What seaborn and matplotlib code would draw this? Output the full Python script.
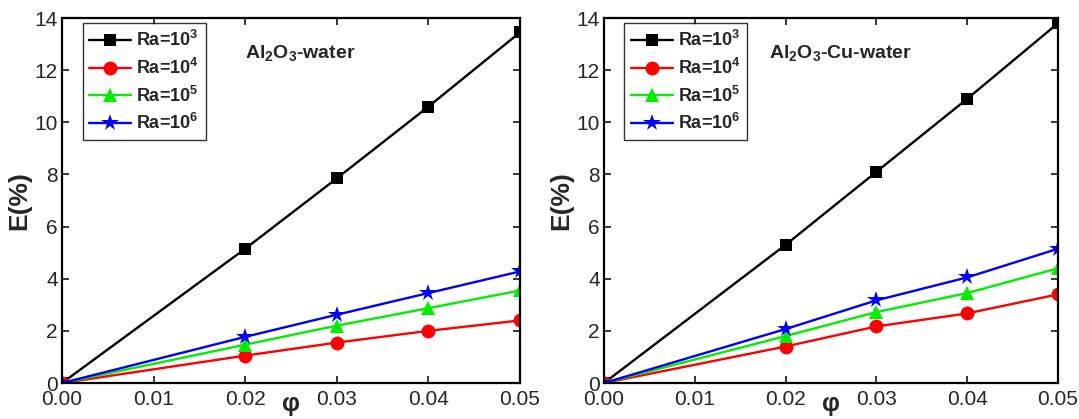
import numpy as np
import pandas as pd
import matplotlib
matplotlib.use("Agg")
import matplotlib.pyplot as plt
import seaborn as sns

phi = [0.0, 0.02, 0.03, 0.04, 0.05]
ra_labels = ["Ra=10$^3$", "Ra=10$^4$", "Ra=10$^5$", "Ra=10$^6$"]

# Al2O3-water
w_ra3 = [0.0, 5.15, 7.85, 10.6, 13.45]
w_ra4 = [0.0, 1.05, 1.55, 2.0, 2.4]
w_ra5 = [0.0, 1.47, 2.2, 2.87, 3.55]
w_ra6 = [0.0, 1.77, 2.62, 3.45, 4.28]

# Al2O3-Cu-water
c_ra3 = [0.0, 5.3, 8.1, 10.9, 13.8]
c_ra4 = [0.0, 1.4, 2.17, 2.67, 3.4]
c_ra5 = [0.0, 1.8, 2.72, 3.45, 4.4]
c_ra6 = [0.0, 2.07, 3.17, 4.05, 5.15]

titles = [r"Al$_2$O$_3$-water", r"Al$_2$O$_3$-Cu-water"]
colors = ["#000000", "#ff0000", "#00ee00", "#0000ff"]
markers = ["s", "o", "^", "*"]
msizes = [9, 10, 10, 13]

sns.set_style("ticks")
plt.rcParams["font.family"] = ["Liberation Sans", "DejaVu Sans"]
plt.rcParams["mathtext.default"] = "regular"

def make_df(series):
    rows = []
    for lab, vals in zip(ra_labels, series):
        for p, v in zip(phi, vals):
            rows.append({"phi": p, "E": v, "Ra": lab})
    return pd.DataFrame(rows)

fig = plt.figure(figsize=(10.79, 4.19), dpi=100)
W, H = 1079, 419
ax1 = fig.add_axes([62 / W, 1 - 383 / H, 458 / W, 365 / H])
ax2 = fig.add_axes([604 / W, 1 - 383 / H, 454 / W, 365 / H])

datasets = [[w_ra3, w_ra4, w_ra5, w_ra6], [c_ra3, c_ra4, c_ra5, c_ra6]]
title_x = [0.40, 0.363]
for ax, series, title, tx in zip([ax1, ax2], datasets, titles, title_x):
    df = make_df(series)
    for i, lab in enumerate(ra_labels):
        sub = df[df["Ra"] == lab]
        sns.lineplot(data=sub, x="phi", y="E", ax=ax, color=colors[i],
                     marker=markers[i], markersize=msizes[i], linewidth=1.7,
                     markeredgewidth=0, label=lab, legend=False)
    ax.set_xlim(0, 0.05)
    ax.set_ylim(0, 14)
    ax.set_xticks([0.0, 0.01, 0.02, 0.03, 0.04, 0.05])
    ax.set_xticklabels(["0.00", "0.01", "0.02", "0.03", "0.04", "0.05"])
    ax.set_yticks(range(0, 15, 2))
    ax.tick_params(direction="in", top=True, right=True, length=5, width=1.3,
                   labelsize=15, pad=3)
    ax.tick_params(axis="x", pad=5)
    for s in ax.spines.values():
        s.set_linewidth(1.6)
        s.set_color("black")
    ax.set_xlabel("φ", fontsize=18, fontweight="bold", labelpad=-12)
    ax.set_ylabel("E(%)", fontsize=19, fontweight="bold", labelpad=2)
    ax.text(tx, 0.905, title, transform=ax.transAxes, fontsize=14,
            fontweight="bold", va="center", ha="left")
    leg = ax.legend(handles=ax.lines[:4], labels=ra_labels, loc="upper left",
                    bbox_to_anchor=(0.045, 0.985), frameon=True, fancybox=False,
                    edgecolor="black", handlelength=2.3, handletextpad=0.3,
                    borderpad=0.37, labelspacing=0.42, borderaxespad=0.0,
                    prop={"weight": "bold", "size": 13})
    leg.get_frame().set_linewidth(1.0)

fig.savefig("out.png", dpi=100)
